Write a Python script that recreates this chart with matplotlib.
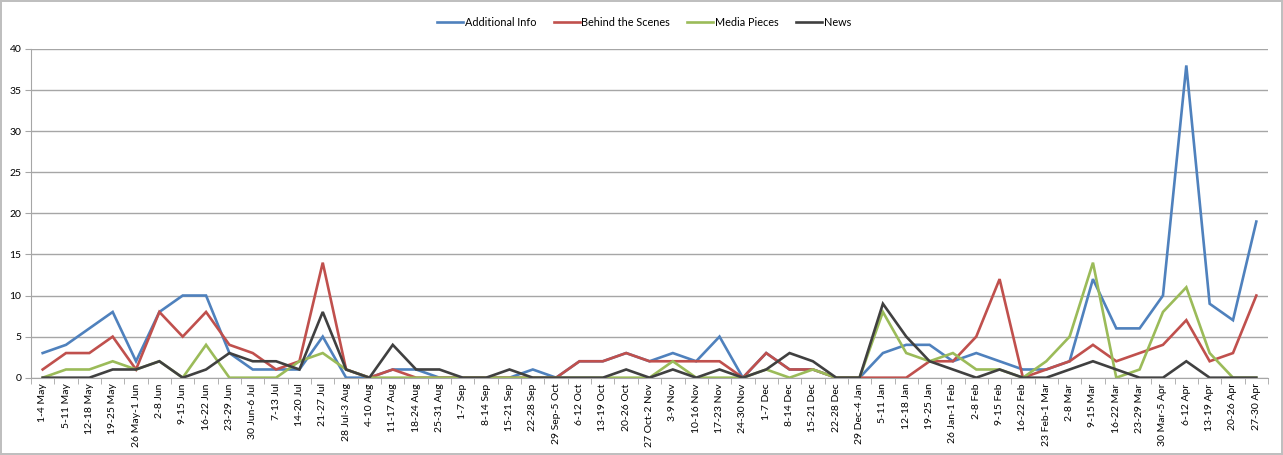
import numpy as np
import matplotlib
matplotlib.use("Agg")
import matplotlib.pyplot as plt

plt.rcParams['font.family'] = ['Lato', 'DejaVu Sans']

weeks = ["1-4 May", "5-11 May", "12-18 May", "19-25 May", "26 May-1 Jun", "2-8 Jun",
         "9-15 Jun", "16-22 Jun", "23-29 Jun", "30 Jun-6 Jul", "7-13 Jul", "14-20 Jul",
         "21-27 Jul", "28 Jul-3 Aug", "4-10 Aug", "11-17 Aug", "18-24 Aug", "25-31 Aug",
         "1-7 Sep", "8-14 Sep", "15-21 Sep", "22-28 Sep", "29 Sep-5 Oct", "6-12 Oct",
         "13-19 Oct", "20-26 Oct", "27 Oct-2 Nov", "3-9 Nov", "10-16 Nov", "17-23 Nov",
         "24-30 Nov", "1-7 Dec", "8-14 Dec", "15-21 Dec", "22-28 Dec", "29 Dec-4 Jan",
         "5-11 Jan", "12-18 Jan", "19-25 Jan", "26 Jan-1 Feb", "2-8 Feb", "9-15 Feb",
         "16-22 Feb", "23 Feb-1 Mar", "2-8 Mar", "9-15 Mar", "16-22 Mar", "23-29 Mar",
         "30 Mar-5 Apr", "6-12 Apr", "13-19 Apr", "20-26 Apr", "27-30 Apr"]

additional_info = [3, 4, 6, 8, 2, 8, 10, 10, 3, 1, 1, 1, 5, 0, 0, 1, 1, 0,
                   0, 0, 0, 1, 0, 2, 2, 3, 2, 3, 2, 5, 0, 3, 1, 1, 0, 0,
                   3, 4, 4, 2, 3, 2, 1, 1, 2, 12, 6, 6, 10, 38, 9, 7, 19]
behind_scenes = [1, 3, 3, 5, 1, 8, 5, 8, 4, 3, 1, 2, 14, 1, 0, 1, 0, 0,
                 0, 0, 0, 0, 0, 2, 2, 3, 2, 2, 2, 2, 0, 3, 1, 1, 0, 0,
                 0, 0, 2, 2, 5, 12, 0, 1, 2, 4, 2, 3, 4, 7, 2, 3, 10]
media_pieces = [0, 1, 1, 2, 1, 2, 0, 4, 0, 0, 0, 2, 3, 1, 0, 0, 0, 0,
                0, 0, 0, 0, 0, 0, 0, 0, 0, 2, 0, 0, 0, 1, 0, 1, 0, 0,
                8, 3, 2, 3, 1, 1, 0, 2, 5, 14, 0, 1, 8, 11, 3, 0, 0]
news = [0, 0, 0, 1, 1, 2, 0, 1, 3, 2, 2, 1, 8, 1, 0, 4, 1, 1,
        0, 0, 1, 0, 0, 0, 0, 1, 0, 1, 0, 1, 0, 1, 3, 2, 0, 0,
        9, 5, 2, 1, 0, 1, 0, 0, 1, 2, 1, 0, 0, 2, 0, 0, 0]

series = [("Additional Info", additional_info, "#4F81BD"),
          ("Behind the Scenes", behind_scenes, "#C0504D"),
          ("Media Pieces", media_pieces, "#9BBB59"),
          ("News", news, "#404040")]

fig = plt.figure(figsize=(12.83, 4.55), dpi=100)
fig.patch.set_edgecolor("#bfbfbf")
fig.patch.set_linewidth(1.5)
ax = fig.add_axes([31 / 1283, 1 - 377.7 / 455, (1268 - 31) / 1283, (377.7 - 49) / 455])

x = np.arange(len(weeks))
for name, vals, col in series:
    ax.plot(x, vals, color=col, lw=1.9, label=name, solid_joinstyle="miter")

ax.set_xlim(-0.5, len(weeks) - 0.5)
ax.set_ylim(0, 40)
ax.set_yticks(range(0, 41, 5))
ax.yaxis.grid(True, color="#a6a6a6", lw=1)
ax.set_axisbelow(True)

ax.set_xticks(x)
ax.set_xticklabels(weeks, rotation=90, fontsize=7.5)
ax.set_xticks(np.arange(-0.5, len(weeks), 1), minor=True)
ax.tick_params(axis="x", which="major", length=0, pad=4)
ax.tick_params(axis="x", which="minor", length=4, color="#a6a6a6", direction="out")
ax.tick_params(axis="y", length=4, color="#a6a6a6", labelsize=7.5, pad=3)

for side in ["top", "right"]:
    ax.spines[side].set_visible(False)
for side in ["left", "bottom"]:
    ax.spines[side].set_color("#a6a6a6")

fig.legend(loc="center", bbox_to_anchor=(644 / 1283, 1 - 22 / 455), ncol=4, frameon=False,
           fontsize=7.8, handlelength=2.4, handletextpad=0.15, columnspacing=1.6)

fig.savefig("out.png", dpi=100)
